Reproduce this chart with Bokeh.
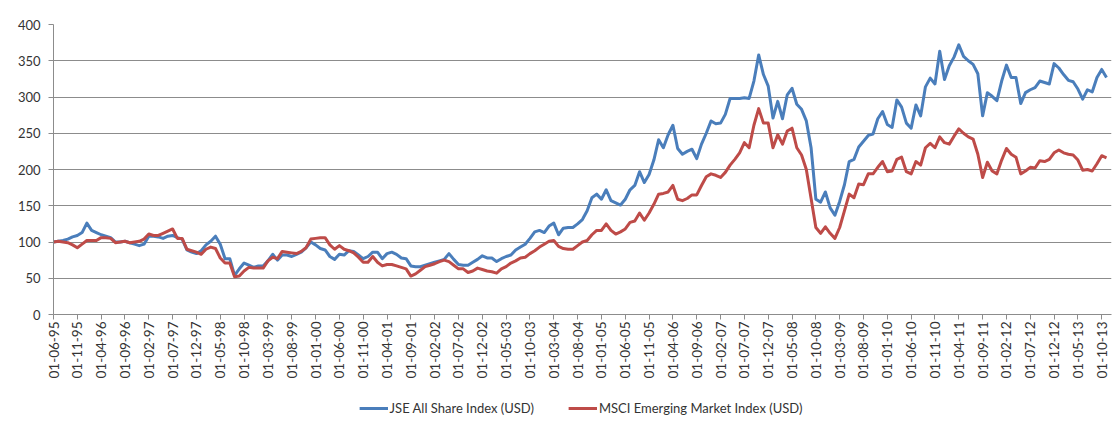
import math
from bokeh.plotting import figure
from bokeh.layouts import column
from bokeh.models import Range1d, Legend, LegendItem, FixedTicker
from bokeh.embed import file_html
from bokeh.resources import INLINE

# ---- data -------------------------------------------------------------
TICK_LABELS = [
    "01-06-95", "01-11-95", "01-04-96", "01-09-96", "01-02-97", "01-07-97",
    "01-12-97", "01-05-98", "01-10-98", "01-03-99", "01-08-99", "01-01-00",
    "01-06-00", "01-11-00", "01-04-01", "01-09-01", "01-02-02", "01-07-02",
    "01-12-02", "01-05-03", "01-10-03", "01-03-04", "01-08-04", "01-01-05",
    "01-06-05", "01-11-05", "01-04-06", "01-09-06", "01-02-07", "01-07-07",
    "01-12-07", "01-05-08", "01-10-08", "01-03-09", "01-08-09", "01-01-10",
    "01-06-10", "01-11-10", "01-04-11", "01-09-11", "01-02-12", "01-07-12",
    "01-12-12", "01-05-13", "01-10-13",
]
SERIES_NAMES = ["JSE All Share Index (USD)", "MSCI Emerging Market Index (USD)"]

JSE = [
    100, 101, 102, 104, 107, 109, 113, 126, 116, 113,
    110, 108, 106, 100, 100, 101, 99, 97, 95, 97,
    108, 108, 107, 105, 108, 109, 106, 104, 89, 86,
    84, 88, 96, 101, 108, 97, 77, 77, 54, 63,
    71, 68, 65, 67, 67, 74, 83, 75, 82, 82,
    80, 83, 86, 92, 100, 96, 91, 89, 80, 76,
    83, 82, 88, 87, 82, 77, 80, 86, 86, 77,
    84, 86, 83, 78, 77, 67, 66, 66, 68, 70,
    72, 74, 76, 84, 76, 69, 68, 68, 72, 76,
    81, 78, 78, 73, 77, 80, 82, 89, 93, 97,
    105, 114, 116, 113, 122, 126, 110, 119, 120, 120,
    125, 131, 143, 161, 166, 159, 172, 157, 154, 151,
    159, 172, 178, 197, 182, 193, 213, 241, 230, 248,
    261, 229, 221, 225, 228, 215, 235, 250, 267, 263,
    264, 276, 298, 298, 298, 299, 298, 322, 358, 331,
    315, 271, 294, 270, 303, 312, 290, 283, 267, 230,
    159, 155, 169, 147, 137, 156, 179, 211, 214, 231,
    239, 247, 249, 270, 280, 262, 258, 296, 286, 264,
    257, 289, 274, 314, 326, 318, 363, 324, 343, 355,
    372, 356, 350, 345, 332, 274, 306, 301, 295, 322,
    344, 327, 327, 291, 306, 310, 313, 322, 320, 318,
    346, 340, 331, 323, 321, 311, 297, 310, 307, 327,
    338, 327,
]

MSCI = [
    100, 101, 100, 99, 96, 92, 97, 102, 102, 102,
    106, 106, 105, 99, 100, 101, 99, 100, 101, 104,
    111, 109, 109, 112, 115, 118, 105, 105, 90, 88,
    86, 83, 90, 93, 91, 78, 71, 71, 52, 53,
    60, 65, 64, 64, 64, 74, 79, 77, 87, 86,
    85, 84, 87, 92, 104, 105, 106, 106, 96, 90,
    95, 90, 88, 85, 79, 72, 72, 80, 72, 67,
    69, 69, 67, 65, 63, 53, 56, 61, 66, 68,
    70, 73, 75, 73, 68, 63, 63, 58, 60, 64,
    62, 60, 59, 57, 63, 66, 71, 74, 78, 79,
    84, 88, 93, 97, 101, 102, 94, 91, 90, 90,
    95, 100, 102, 110, 116, 116, 125, 116, 111, 114,
    118, 127, 129, 140, 130, 140, 152, 166, 167, 169,
    178, 159, 157, 160, 165, 165, 178, 190, 194, 192,
    189, 196, 206, 214, 223, 237, 230, 261, 284, 264,
    264, 230, 248, 235, 253, 257, 230, 220, 200, 160,
    120, 112, 121, 112, 105, 120, 143, 166, 161, 180,
    179, 194, 194, 203, 211, 197, 198, 214, 217, 197,
    194, 211, 206, 230, 236, 230, 245, 237, 235, 246,
    256, 250, 245, 242, 221, 189, 210, 198, 194, 213,
    229, 221, 217, 194, 198, 203, 202, 212, 211, 214,
    223, 227, 223, 221, 220, 213, 199, 200, 198, 208,
    219, 216,
]

Y_TICKS = [0, 50, 100, 150, 200, 250, 300, 350, 400]
TICK_STEP = 5  # one label every 5 months

months = list(range(len(JSE)))

# ---- styles -----------------------------------------------------------
FONT = "Lato"
TEXT = "#333333"
GRID = "#8c8c8c"
COLORS = ["#4a7ebb", "#be4b48"]

# ---- main chart -------------------------------------------------------
p = figure(
    frame_width=1058, frame_height=290,
    output_backend="svg", toolbar_location=None,
    x_range=Range1d(0, 222.05), y_range=Range1d(0, 400),
    min_border_left=53, min_border_right=6,
    min_border_top=24, min_border_bottom=74,
)
p.outline_line_color = None
p.background_fill_color = "white"
p.border_fill_color = "white"

p.line(months, JSE, line_color=COLORS[0], line_width=3, line_join="round")
p.line(months, MSCI, line_color=COLORS[1], line_width=3, line_join="round")

xt = [i * TICK_STEP for i in range(len(TICK_LABELS))]
p.xaxis.ticker = FixedTicker(ticks=xt)
p.xaxis.major_label_overrides = {t: lab for t, lab in zip(xt, TICK_LABELS)}
p.xaxis.major_label_orientation = math.pi / 2
p.yaxis.ticker = FixedTicker(ticks=Y_TICKS)

for ax in (p.xaxis, p.yaxis):
    ax.axis_line_color = GRID
    ax.axis_line_width = 1
    ax.major_tick_line_color = GRID
    ax.major_tick_in = 0
    ax.major_tick_out = 5
    ax.minor_tick_line_color = None
    ax.major_label_text_font = FONT
    ax.major_label_text_color = TEXT
p.yaxis.major_label_text_font_size = "13px"
p.xaxis.major_label_text_font_size = "13.5px"
p.xaxis.major_label_standoff = 2
p.yaxis.major_label_standoff = 8

p.xgrid.grid_line_color = None
p.ygrid.grid_line_color = GRID
p.ygrid.grid_line_width = 1

# ---- legend strip below the chart ------------------------------------
lg = figure(
    width=1117, height=40,
    output_backend="svg", toolbar_location=None,
    x_range=Range1d(-10, -9), y_range=Range1d(0, 1),
    x_axis_type=None, y_axis_type=None,
    min_border_left=0, min_border_right=9,
    min_border_top=0, min_border_bottom=0,
)
lg.outline_line_color = None
lg.grid.visible = False
lg.border_fill_color = "white"
l1 = lg.line(months, JSE, line_color=COLORS[0], line_width=3)
l2 = lg.line(months, MSCI, line_color=COLORS[1], line_width=3)

legend = Legend(
    items=[LegendItem(label=SERIES_NAMES[0], renderers=[l1]),
           LegendItem(label=SERIES_NAMES[1], renderers=[l2])],
    orientation="horizontal", location="center",
    border_line_color=None, background_fill_alpha=0,
    label_text_font=FONT, label_text_font_size="13px", label_text_color=TEXT,
    glyph_width=29, glyph_height=16, spacing=34, padding=0, margin=0,
    label_standoff=2,
)
lg.add_layout(legend)

layout = column(p, lg, spacing=0)

open("out.html", "w").write(file_html(layout, INLINE))
